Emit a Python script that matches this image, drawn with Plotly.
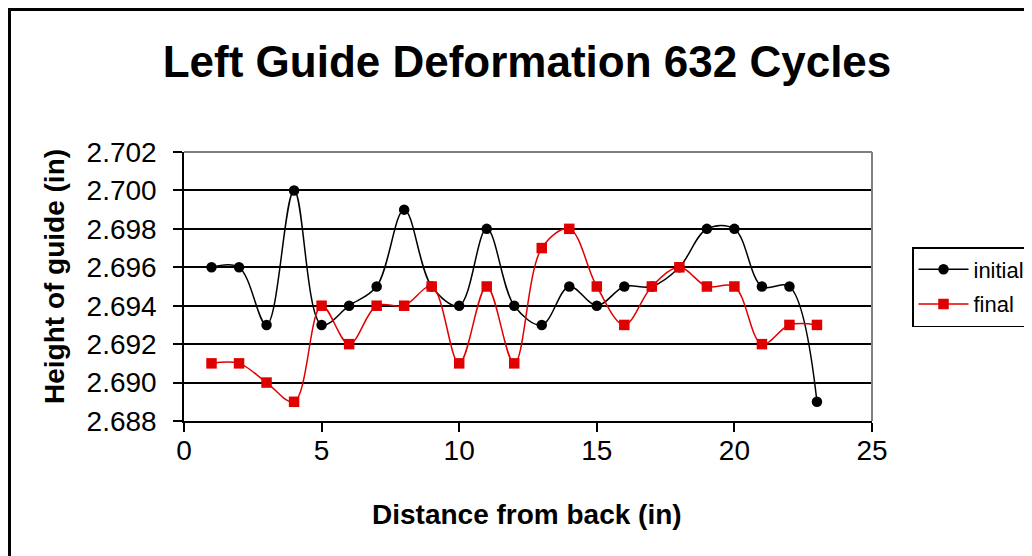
import plotly.graph_objects as go

distance = list(range(1, 24))
initial = [2.696, 2.696, 2.693, 2.700, 2.693, 2.694, 2.695, 2.699, 2.695, 2.694,
           2.698, 2.694, 2.693, 2.695, 2.694, 2.695, 2.695, 2.696, 2.698, 2.698,
           2.695, 2.695, 2.689]
final = [2.691, 2.691, 2.690, 2.689, 2.694, 2.692, 2.694, 2.694, 2.695, 2.691,
         2.695, 2.691, 2.697, 2.698, 2.695, 2.693, 2.695, 2.696, 2.695, 2.695,
         2.692, 2.693, 2.693]
y_ticks = [2.688, 2.690, 2.692, 2.694, 2.696, 2.698, 2.700, 2.702]
x_ticks = [0, 5, 10, 15, 20, 25]

FONT = "Arial, Liberation Sans, sans-serif"
OFF = 8  # page body margin
W, H = 1032, 556
L, T = 184 - OFF, 152 - OFF
R = W - (872 - OFF)
B = H - (421 - OFF)
PW, PH = W - L - R, H - T - B


def px(x):
    return (x - OFF - L) / PW


def py(y):
    return (H - B - (y - OFF)) / PH


fig = go.Figure()
fig.add_trace(go.Scatter(
    x=distance, y=initial, name="initial", mode="lines+markers",
    line=dict(color="black", width=1.5, shape="spline", smoothing=1),
    marker=dict(symbol="circle", size=10.5, color="black"),
    legendgroup="a",
))
fig.add_trace(go.Scatter(
    x=distance, y=final, name="final", mode="lines+markers",
    line=dict(color="#e00000", width=1.5, shape="spline", smoothing=1),
    marker=dict(symbol="square", size=10.5, color="#e00000"),
    legendgroup="b",
))

fig.update_layout(
    width=W, height=H,
    margin=dict(l=L, r=R, t=T, b=B, autoexpand=False),
    paper_bgcolor="white", plot_bgcolor="white",
    font=dict(family=FONT, color="black"),
    title=dict(text="<b>Left Guide Deformation 632 Cycles</b>",
               font=dict(size=44, family=FONT, color="black"),
               x=(527 - OFF) / W, xref="container", xanchor="center",
               y=1 - (62 - OFF) / H, yref="container", yanchor="middle"),
    showlegend=True,
    legend=dict(x=px(912), y=py(247), xanchor="left", yanchor="top",
                bgcolor="white", bordercolor="black", borderwidth=1.5,
                font=dict(size=22, family=FONT, color="black"),
                itemwidth=50, tracegroupgap=3),
)

fig.update_xaxes(
    range=[0, 25], tickvals=x_ticks, ticktext=[str(v) for v in x_ticks],
    showgrid=False, zeroline=False,
    showline=True, linecolor="black", linewidth=1.5,
    ticks="outside", ticklen=9, tickwidth=1.5, tickcolor="black",
    tickfont=dict(size=28, family=FONT, color="black"),
    ticklabelstandoff=-5,
)
fig.update_yaxes(
    range=[2.688, 2.702], tickvals=y_ticks, ticktext=[f"{v:.3f}" for v in y_ticks],
    showgrid=True, gridcolor="black", gridwidth=1.5, zeroline=False,
    showline=True, linecolor="black", linewidth=1.5,
    ticks="outside", ticklen=9, tickwidth=1.5, tickcolor="black",
    tickfont=dict(size=28, family=FONT, color="black"),
    ticklabelstandoff=11,
)

fig.add_annotation(text="<b>Distance from back (in)</b>", xref="paper", yref="paper",
                   x=px(527), y=py(514), xanchor="center", yanchor="middle",
                   showarrow=False, font=dict(size=28, family=FONT, color="black"))
fig.add_annotation(text="<b>Height of guide (in)</b>", xref="paper", yref="paper",
                   x=px(54), y=py(277), xanchor="center", yanchor="middle",
                   textangle=-90, showarrow=False,
                   font=dict(size=28, family=FONT, color="black"))

# outer chart border (cropped on right and bottom)
fig.add_shape(type="rect", xref="paper", yref="paper",
              x0=px(9.5), y0=py(H + 20), x1=px(W + 20), y1=py(9.5),
              line=dict(color="black", width=3), fillcolor="rgba(0,0,0,0)", layer="below")
# grey plot-area border on top and right
fig.add_shape(type="line", xref="paper", yref="paper", x0=0, x1=1, y0=1, y1=1,
              line=dict(color="#808080", width=2), layer="above")
fig.add_shape(type="line", xref="paper", yref="paper", x0=1, x1=1, y0=0, y1=1,
              line=dict(color="#808080", width=2), layer="above")

fig.write_html("out.html")
